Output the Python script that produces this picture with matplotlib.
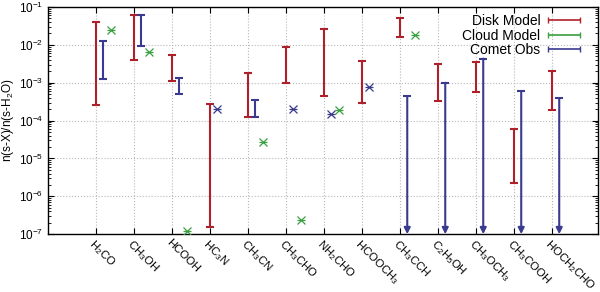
import numpy as np
import matplotlib
matplotlib.use("Agg")
from matplotlib import pyplot as plt
from matplotlib.legend_handler import HandlerErrorbar
from matplotlib.ticker import LogLocator, NullFormatter

plt.rcParams["font.family"] = ["Liberation Sans", "DejaVu Sans"]
plt.rcParams["mathtext.fontset"] = "custom"
plt.rcParams["mathtext.rm"] = "Liberation Sans"
plt.rcParams["mathtext.it"] = "Liberation Sans"

# species along the x axis
species = ["H$_2$CO", "CH$_3$OH", "HCOOH", "HC$_3$N", "CH$_3$CN", "CH$_3$CHO",
           "NH$_2$CHO", "HCOOCH$_3$", "CH$_3$CCH", "C$_2$H$_5$OH",
           "CH$_3$OCH$_3$", "CH$_3$COOH", "HOCH$_2$CHO"]

# disk model ranges (min, max)
disk_lo = [2.55e-4, 4.0e-3, 1.11e-3, 1.57e-7, 1.25e-4, 9.7e-4, 4.57e-4,
           2.88e-4, 1.65e-2, 3.31e-4, 5.6e-4, 2.23e-6, 1.88e-4]
disk_hi = [4.0e-2, 6.0e-2, 5.3e-3, 2.7e-4, 1.78e-3, 8.6e-3, 2.68e-2,
           3.83e-3, 5.2e-2, 3.13e-3, 3.6e-3, 6.0e-5, 2.0e-3]

# cloud model points (index, value)
cloud_idx = [0, 1, 2, 4, 5, 6, 8]
cloud_val = [2.47e-2, 6.4e-3, 1.25e-7, 2.8e-5, 2.35e-7, 1.91e-4, 1.79e-2]

# comet observations: ranges, single values, upper limits
comet_rng_idx = [0, 1, 2, 4]
comet_rng_lo = [1.26e-3, 9.2e-3, 5.06e-4, 1.25e-4]
comet_rng_hi = [1.27e-2, 6.3e-2, 1.37e-3, 3.58e-4]
comet_pt_idx = [3, 5, 6, 7]
comet_pt_val = [2.0e-4, 2.0e-4, 1.48e-4, 7.9e-4]
comet_ul_idx = [8, 9, 10, 11, 12]
comet_ul_val = [4.4e-4, 1.0e-3, 4.34e-3, 5.96e-4, 3.9e-4]

red = "#b0202a"
green = "#3aa040"
blue = "#3a3a8e"
ymin, ymax = 1e-7, 1e-1

fig = plt.figure(figsize=(6.0, 2.92), dpi=100)
ax = fig.add_axes([0.08, 0.198, 0.916, 0.778])
ax.set_yscale("log")
ax.set_ylim(ymin, ymax)
ax.set_xlim(-1.255, 13.21)

x = np.arange(len(species))
lo = np.array(disk_lo)
hi = np.array(disk_hi)
ax.errorbar(x, lo, yerr=[np.zeros_like(lo), hi - lo], fmt="none",
            ecolor=red, elinewidth=1.5, capsize=2.6, capthick=1.5, zorder=3)


def stars(xs, ys, color):
    # gnuplot-like asterisk: an x with a horizontal bar
    for m in ("x", "_"):
        ax.plot(xs, ys, ls="none", marker=m, ms=6, mew=0.9, color=color,
                zorder=3)


stars(np.array(cloud_idx) + 0.4, cloud_val, green)

cl = np.array(comet_rng_lo)
ch = np.array(comet_rng_hi)
ax.errorbar(np.array(comet_rng_idx) + 0.2, cl, yerr=[np.zeros_like(cl), ch - cl],
            fmt="none", ecolor=blue, elinewidth=1.5, capsize=2.6, capthick=1.5,
            zorder=3)
stars(np.array(comet_pt_idx) + 0.2, comet_pt_val, blue)
for i, v in zip(comet_ul_idx, comet_ul_val):
    ax.annotate("", xy=(i + 0.2, ymin), xytext=(i + 0.2, v),
                arrowprops=dict(arrowstyle="-|>", color=blue, lw=1.5,
                                mutation_scale=9, shrinkA=0, shrinkB=0),
                zorder=3)
ax.plot(np.array(comet_ul_idx) + 0.2, comet_ul_val, ls="none", marker="_",
        ms=5.2, mew=1.5, color=blue, zorder=3)

# legend handles
h_disk = ax.errorbar([np.nan], [np.nan], xerr=[1], fmt="none", ecolor=red,
                     elinewidth=1.2, capsize=2.5, label="Disk Model")
h_cloud = ax.errorbar([np.nan], [np.nan], xerr=[1], fmt="none", ecolor=green,
                      elinewidth=1.2, capsize=2.5, label="Cloud Model")
h_comet = ax.errorbar([np.nan], [np.nan], xerr=[1], fmt="none", ecolor=blue,
                      elinewidth=1.2, capsize=2.5, label="Comet Obs")
ax.legend(handles=[h_disk, h_cloud, h_comet], loc="upper right",
          bbox_to_anchor=(0.982, 1.0),
          markerfirst=False, frameon=False, fontsize=10, handlelength=2.4,
          handletextpad=0.5, labelspacing=0.05, borderaxespad=0.2,
          borderpad=0.3,
          handler_map={type(h_disk): HandlerErrorbar(xerr_size=1.15)})

ax.set_xticks(x)
ax.set_xticklabels(species, rotation=-45, ha="left", va="top",
                   rotation_mode="anchor", fontsize=8.2)
ax.tick_params(axis="x", which="both", direction="in", top=True, length=4,
               pad=2)
ax.yaxis.set_major_locator(LogLocator(base=10, numticks=10))
ax.yaxis.set_minor_locator(LogLocator(base=10, subs=np.arange(2, 10), numticks=10))
ax.yaxis.set_minor_formatter(NullFormatter())
ax.tick_params(axis="y", which="both", direction="in", right=True,
               labelsize=8.5)
ax.tick_params(axis="y", which="major", length=4)
ax.tick_params(axis="y", which="minor", length=2)
ax.grid(True, which="major", color="#b8b8b8", ls=":", lw=0.8)
ax.set_ylabel("n(s-X)/n(s-H$_2$O)", fontsize=8.5, labelpad=2)
for s in ax.spines.values():
    s.set_linewidth(1.0)

fig.savefig("out.png", dpi=100)
